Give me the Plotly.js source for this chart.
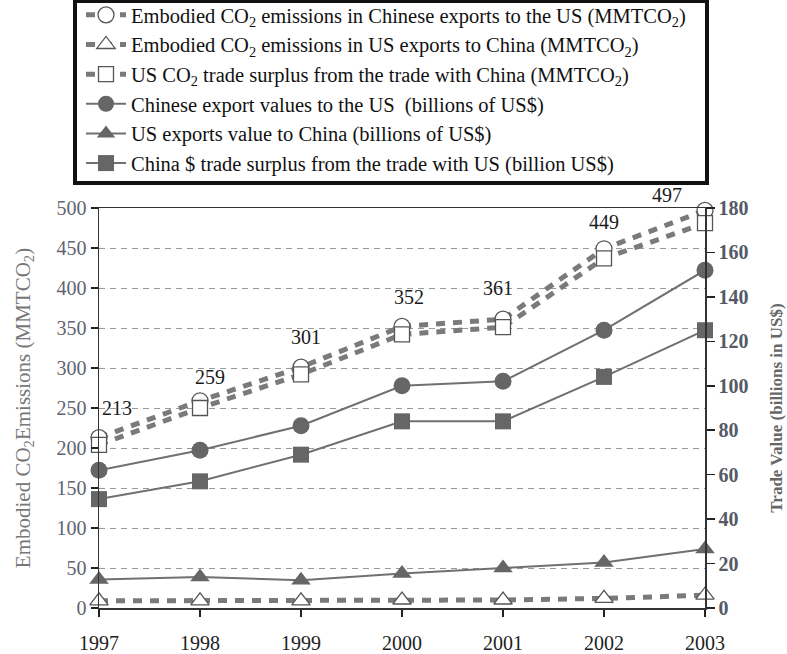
<!DOCTYPE html>
<html>
<head>
<meta charset="utf-8">
<script src="https://cdn.plot.ly/plotly-3.0.1.min.js"></script>
<style>
  html, body { margin: 0; padding: 0; background: #fff; }
  #chart { width: 787px; height: 654px; }
</style>
</head>
<body>
<div id="chart"></div>
<script>
// Years on the horizontal axis
const years = [1997, 1998, 1999, 2000, 2001, 2002, 2003];

// Embodied CO2 (MMTCO2), left axis
const co2ChinaToUS = [213, 259, 301, 352, 361, 449, 497];
const co2USToChina = [9, 9, 9, 10, 10, 12, 16];
const co2USSurplus = [204, 250, 292, 342, 351, 437, 481];

// Trade values (billions of US$), right axis
const chinaExportValue = [62, 71, 82, 100, 102, 125, 152];
const usExportValue = [12.8, 14, 12.5, 15.5, 18, 20.5, 26.5];
const chinaDollarSurplus = [49, 57, 69, 84, 84, 104, 125];

// Legend labels
const names = [
  'Embodied CO<sub>2</sub> emissions in Chinese exports to the US (MMTCO<sub>2</sub>)',
  'Embodied CO<sub>2</sub> emissions in US exports to China (MMTCO<sub>2</sub>)',
  'US CO<sub>2</sub> trade surplus from the trade with China (MMTCO<sub>2</sub>)',
  'Chinese export values to the US  (billions of US$)',
  'US exports value to China (billions of US$)',
  'China $ trade surplus from the trade with US (billion US$)'
];

const SERIF = '"Liberation Serif", "Times New Roman", serif';
const dashLine = { color: '#7a7a7a', width: 5, dash: '9px,8px' };
const solidLine = { color: '#707070', width: 2 };
const openMarker = (symbol, size) => ({ symbol, size, color: '#ffffff', line: { color: '#555', width: 1.3 } });
const fullMarker = (symbol, size) => ({ symbol, size, color: '#666666', line: { color: '#666666', width: 0 } });

const traces = [
  { x: years, y: co2ChinaToUS, name: names[0], yaxis: 'y', mode: 'lines+markers',
    line: dashLine, marker: openMarker('circle', 16), legendgroup: 'a' },
  { x: years, y: co2USToChina, name: names[1], yaxis: 'y', mode: 'lines+markers',
    line: dashLine, marker: openMarker('triangle-up', 16), legendgroup: 'b' },
  { x: years, y: co2USSurplus, name: names[2], yaxis: 'y', mode: 'lines+markers',
    line: dashLine, marker: openMarker('square', 15), legendgroup: 'c' },
  { x: years, y: chinaExportValue, name: names[3], yaxis: 'y2', mode: 'lines+markers',
    line: solidLine, marker: fullMarker('circle', 17), legendgroup: 'd' },
  { x: years, y: usExportValue, name: names[4], yaxis: 'y2', mode: 'lines+markers',
    line: solidLine, marker: fullMarker('triangle-up', 17), legendgroup: 'e' },
  { x: years, y: chinaDollarSurplus, name: names[5], yaxis: 'y2', mode: 'lines+markers',
    line: solidLine, marker: fullMarker('square', 16), legendgroup: 'f' }
].map(t => Object.assign(t, { cliponaxis: false }));

// Value labels above the embodied-emissions series
const labelShiftX = [18, 10, 5, 7, -5, 0, -38];
const labelShiftY = [30, 24, 30, 29, 31, 27, 15];
const annotations = years.map((yr, i) => ({
  x: yr, y: co2ChinaToUS[i], xref: 'x', yref: 'y',
  text: String(co2ChinaToUS[i]), showarrow: false,
  xshift: labelShiftX[i], yshift: labelShiftY[i],
  font: { family: SERIF, size: 20, color: '#1a1a1a' }
}));

const layout = {
  width: 787, height: 654,
  margin: { l: 99, r: 82, t: 208, b: 46, pad: 0, autoexpand: false },
  paper_bgcolor: '#fff', plot_bgcolor: '#fff',
  font: { family: SERIF, color: '#222' },
  showlegend: true,
  legend: {
    x: -0.0297, xanchor: 'left', y: 1.5325, yanchor: 'top',
    borderwidth: 0, bgcolor: 'rgba(0,0,0,0)',
    font: { family: SERIF, size: 20.5, color: '#111' },
    tracegroupgap: 0, itemwidth: 40
  },
  // heavy frame around the legend
  shapes: [{
    type: 'rect', xref: 'paper', yref: 'paper',
    x0: -0.0396, x1: 1.0033, y0: 1.0625, y1: 1.5175,
    line: { color: '#111', width: 4 }, fillcolor: 'rgba(0,0,0,0)', layer: 'above'
  }],
  xaxis: {
    range: [1997, 2003], tickvals: years, ticktext: years.map(String),
    ticks: 'outside', ticklen: 7, tickwidth: 1.5, tickcolor: '#222',
    showline: true, linecolor: '#333', linewidth: 1.5, mirror: true,
    showgrid: false, zeroline: false, ticklabelstandoff: 9,
    tickfont: { family: SERIF, size: 20, color: '#222' }
  },
  xaxis2: {
    overlaying: 'x', anchor: 'y', range: [1997, 2003], tickvals: years,
    ticks: 'inside', ticklen: 6, tickwidth: 1.5, tickcolor: '#222',
    showticklabels: false, showline: false, showgrid: false, zeroline: false
  },
  yaxis: {
    range: [0, 500], dtick: 50, tick0: 0,
    ticks: 'outside', ticklen: 7, tickwidth: 1.5, tickcolor: '#222',
    showline: true, linecolor: '#333', linewidth: 1.5,
    showgrid: true, gridcolor: '#9a9a9a', gridwidth: 1, griddash: '6px,5px',
    zeroline: false,
    tickfont: { family: SERIF, size: 20, color: '#5f6470' },
    title: {
      text: 'Embodied CO<sub>2</sub>Emissions (MMTCO<sub>2</sub>)',
      font: { family: SERIF, size: 21, color: '#777' }, standoff: 20
    }
  },
  yaxis2: {
    overlaying: 'y', side: 'right', anchor: 'x', range: [0, 180], dtick: 20, tick0: 0,
    ticks: 'outside', ticklen: 8, tickwidth: 1.5, tickcolor: '#222',
    showline: true, linecolor: '#333', linewidth: 1.5,
    showgrid: false, zeroline: false,
    tickfont: { family: SERIF, size: 20, color: '#555a66', weight: 700 },
    title: {
      text: 'Trade Value (billions in US$)',
      font: { family: SERIF, size: 17, color: '#666', weight: 700 }, standoff: 22
    }
  },
  yaxis3: {
    overlaying: 'y', side: 'right', anchor: 'x', range: [0, 180], dtick: 20, tick0: 0,
    ticks: 'inside', ticklen: 7, tickwidth: 1.5, tickcolor: '#222',
    showticklabels: false, showline: false, showgrid: false, zeroline: false
  },
  annotations: annotations
};

Plotly.newPlot('chart', traces, layout, { displayModeBar: false, staticPlot: true });
</script>
</body>
</html>
